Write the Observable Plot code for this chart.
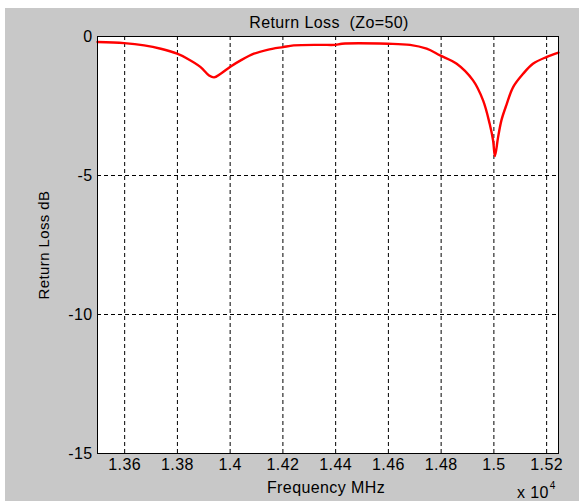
<!DOCTYPE html>
<html>
<head>
<meta charset="utf-8">
<script src="https://cdn.jsdelivr.net/npm/d3@7"></script>
<script src="https://cdn.jsdelivr.net/npm/@observablehq/plot@0.6"></script>
<style>
  html, body { margin: 0; padding: 0; background: #ffffff; overflow: hidden; }
  #fig { position: absolute; left: 5px; top: 8px; width: 574px; height: 493px; background: #c8c8c8; font-family: "Liberation Sans", Arial, sans-serif; color: #000; overflow: hidden; }
  #fig svg { position: absolute; left: 0; top: 0; }
  .lbl { position: absolute; white-space: pre; font-size: 16px; letter-spacing: 0.4px; line-height: 1; }
</style>
</head>
<body>
<div id="fig">
  <div class="lbl" id="title" style="left:324px; top:7px; transform:translateX(-50%);"></div>
  <div class="lbl" id="ylab" style="left:38px; top:237px; transform:translate(-50%,-50%) rotate(-90deg); font-size:15px;"></div>
  <div class="lbl" id="xlab" style="left:321px; top:472px; transform:translateX(-50%);"></div>
  <div class="lbl" id="mult" style="left:512px; top:477px;"></div>
</div>
<script>
const title = "Return Loss  (Zo=50)";
const xLabel = "Frequency MHz";
const yLabel = "Return Loss dB";
const multiplierBase = "x 10";
const multiplierExp = "4";
const xTicks = [13600, 13800, 14000, 14200, 14400, 14600, 14800, 15000, 15200];
const yTicks = [0, -5, -10, -15];
const freqMHz = [13497, 13598, 13674, 13737, 13799, 13838, 13888, 13920, 13939, 13964, 14002, 14040, 14090, 14141, 14201, 14241, 14342, 14399, 14424, 14598, 14682, 14745, 14796, 14859, 14921, 14959, 14984, 14997, 15004, 15016, 15029, 15048, 15073, 15111, 15148, 15199, 15245];
const returnLossDb = [-0.20, -0.24, -0.32, -0.44, -0.62, -0.80, -1.10, -1.40, -1.47, -1.34, -1.08, -0.86, -0.62, -0.48, -0.38, -0.32, -0.30, -0.30, -0.26, -0.26, -0.30, -0.44, -0.68, -0.98, -1.58, -2.30, -3.14, -3.74, -4.30, -3.62, -3.00, -2.45, -1.82, -1.34, -0.98, -0.74, -0.58];

document.getElementById("title").textContent = title;
document.getElementById("ylab").textContent = yLabel;
document.getElementById("xlab").textContent = xLabel;
const mult = document.getElementById("mult");
mult.textContent = multiplierBase;
const sup = document.createElement("span");
sup.textContent = multiplierExp;
sup.style.cssText = "font-size:10px; position:relative; top:-9px; margin-left:1px;";
mult.appendChild(sup);

const data = freqMHz.map((f, i) => ({f, db: returnLossDb[i]}));
const fmtX = d => String(d / 1e4);

const chart = Plot.plot({
  width: 574,
  height: 493,
  marginLeft: 92,
  marginRight: 21,
  marginTop: 28,
  marginBottom: 48,
  style: {background: "transparent", fontFamily: "'Liberation Sans', Arial, sans-serif", fontSize: "16px", letterSpacing: "0.4px", color: "#000"},
  x: {domain: [13497, 15245], label: null},
  y: {domain: [-15, 0], label: null},
  marks: [
    Plot.frame({fill: "white"}),
    Plot.ruleX(xTicks, {stroke: "black", strokeDasharray: "4,3", strokeWidth: 1}),
    Plot.ruleY(yTicks.filter(d => d !== 0 && d !== -15), {stroke: "black", strokeDasharray: "4,3", strokeWidth: 1}),
    Plot.line(data, {x: "f", y: "db", stroke: "#ff0000", strokeWidth: 2.4, curve: "catmull-rom"}),
    Plot.frame({stroke: "black", strokeWidth: 1}),
    Plot.axisX({ticks: xTicks, tickFormat: fmtX, tickSize: 0, tickPadding: 5, label: null}),
    Plot.axisY({ticks: yTicks, tickFormat: d => String(d), tickSize: 0, tickPadding: 5, label: null})
  ]
});
document.getElementById("fig").appendChild(chart);
</script>
</body>
</html>
